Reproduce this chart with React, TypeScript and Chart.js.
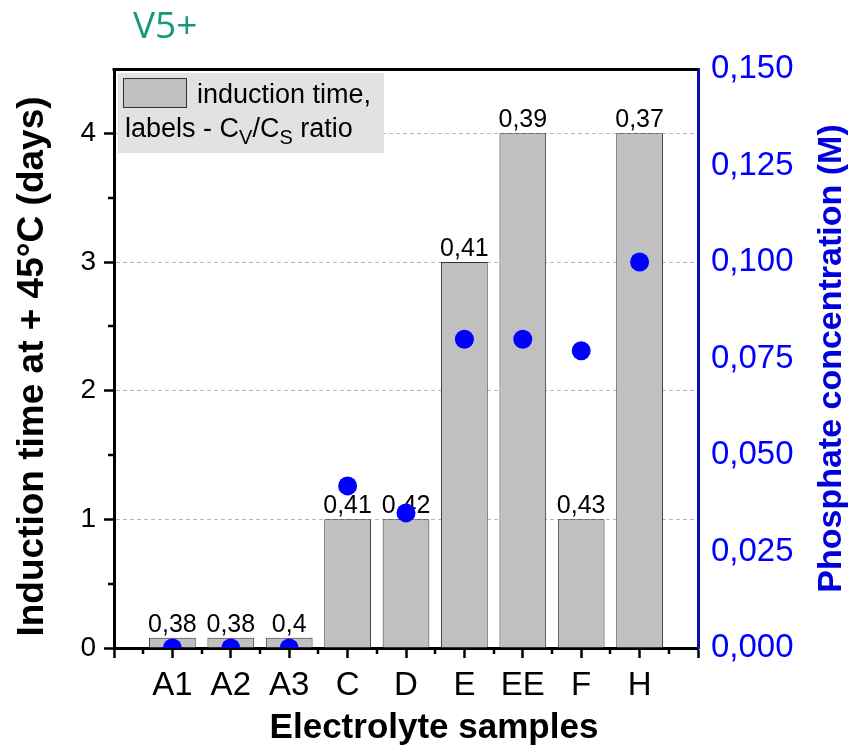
import React, { useEffect, useRef } from 'react';
import { Chart, registerables } from 'chart.js';

Chart.register(...registerables);

// Electrolyte samples along the x axis
const SAMPLES = ['A1', 'A2', 'A3', 'C', 'D', 'E', 'EE', 'F', 'H'];
// Induction time at +45 °C, days (bars, left axis)
const INDUCTION_DAYS = [0.08, 0.08, 0.08, 1, 1, 3, 4, 1, 4];
// Phosphate concentration, M (dots, right axis)
const PHOSPHATE_M = [0, 0, 0, 0.042, 0.035, 0.08, 0.08, 0.077, 0.1];
// CV/CS ratio printed above each bar
const CV_CS_RATIO = [0.38, 0.38, 0.4, 0.41, 0.42, 0.41, 0.39, 0.43, 0.37];
// Axis ticks
const DAY_TICKS = [0, 1, 2, 3, 4];
const CONC_TICKS = [0, 0.025, 0.05, 0.075, 0.1, 0.125, 0.15];

const FONT = "'Liberation Sans', Arial, Helvetica, sans-serif";
const BAR_FILL = '#c0c0c0';
const BAR_EDGE = '#333333';
const DOT_BLUE = '#0000ff';
const RIGHT_AXIS_BLUE = '#0c0cb0';
const TITLE_BLUE = '#0000dd';
const TEAL = '#17987a';

const comma = (v: number, digits?: number) =>
  (digits === undefined ? String(v) : v.toFixed(digits)).replace('.', ',');

const figureDecor = {
  id: 'figureDecor',
  afterDatasetDraw(chart: any, args: any) {
    if (args.index !== 0) return;
    const { ctx } = chart;
    const meta = chart.getDatasetMeta(0);
    ctx.save();
    ctx.font = `25px ${FONT}`;
    ctx.fillStyle = '#000';
    ctx.textAlign = 'center';
    ctx.textBaseline = 'alphabetic';
    meta.data.forEach((bar: any, i: number) => {
      ctx.fillText(comma(CV_CS_RATIO[i]), bar.x, bar.y - 6);
    });
    ctx.restore();
  },
  afterDraw(chart: any) {
    const { ctx, chartArea: a, scales } = chart;
    const xs = scales.x;
    const ys = scales.y;
    ctx.save();

    // top frame line
    ctx.strokeStyle = '#000';
    ctx.lineWidth = 3;
    ctx.beginPath();
    ctx.moveTo(a.left - 1.5, a.top + 0.5);
    ctx.lineTo(a.right, a.top + 0.5);
    ctx.stroke();

    // minor ticks on the x and left y axes
    ctx.lineWidth = 2.5;
    ctx.beginPath();
    for (let v = xs.min + 0.5; v < xs.max; v += 1) {
      const px = Math.round(xs.getPixelForValue(v));
      ctx.moveTo(px, a.bottom);
      ctx.lineTo(px, a.bottom + 6);
    }
    for (let v = 0.5; v < ys.max; v += 1) {
      const py = Math.round(ys.getPixelForValue(v));
      ctx.moveTo(a.left, py);
      ctx.lineTo(a.left - 6, py);
    }
    ctx.stroke();

    // legend box
    const lx = a.left + 4;
    const ly = a.top + 4;
    ctx.fillStyle = '#e2e2e2';
    ctx.fillRect(lx, ly, 266, 80);
    ctx.fillStyle = BAR_FILL;
    ctx.fillRect(lx + 5, ly + 5, 64, 30);
    ctx.strokeStyle = BAR_EDGE;
    ctx.lineWidth = 1;
    ctx.strokeRect(lx + 5.5, ly + 5.5, 63, 29);
    ctx.fillStyle = '#000';
    ctx.textAlign = 'left';
    ctx.textBaseline = 'alphabetic';
    ctx.font = `27px ${FONT}`;
    ctx.fillText('induction time,', lx + 79, ly + 30);
    let tx = lx + 7;
    const base = ly + 64;
    const parts: [string, boolean][] = [
      ['labels - C', false],
      ['V', true],
      ['/C', false],
      ['S', true],
      [' ratio', false],
    ];
    parts.forEach(([t, sub]) => {
      ctx.font = sub ? `20px ${FONT}` : `27px ${FONT}`;
      ctx.fillText(t, tx, sub ? base + 7 : base);
      tx += ctx.measureText(t).width;
    });

    // axis titles
    const midY = (a.top + a.bottom) / 2;
    ctx.textAlign = 'center';
    ctx.textBaseline = 'middle';

    ctx.save();
    ctx.font = `bold 37px ${FONT}`;
    ctx.fillStyle = '#000';
    ctx.translate(a.left - 81, midY + 8);
    ctx.rotate(-Math.PI / 2);
    ctx.fillText('Induction time at + 45°C (days)', 0, 0);
    ctx.restore();

    ctx.save();
    ctx.font = `bold 34px ${FONT}`;
    ctx.fillStyle = TITLE_BLUE;
    ctx.translate(a.right + 134, midY);
    ctx.rotate(-Math.PI / 2);
    ctx.fillText('Phosphate concentration (M)', 0, 0);
    ctx.restore();

    ctx.font = `bold 35px ${FONT}`;
    ctx.fillStyle = '#000';
    ctx.fillText('Electrolyte samples', (a.left + a.right) / 2 + 28, a.bottom + 80);

    // panel tag
    ctx.font = `37px 'Open Sans', 'Noto Sans', sans-serif`;
    ctx.fillStyle = TEAL;
    ctx.textAlign = 'left';
    ctx.textBaseline = 'alphabetic';
    ctx.fillText('V5+', 133, 38);

    ctx.restore();
  },
};

export default function App() {
  const canvasRef = useRef<HTMLCanvasElement | null>(null);

  useEffect(() => {
    const canvas = canvasRef.current;
    if (!canvas) return;
    const chart = new Chart(canvas, {
      data: {
        labels: SAMPLES.map((_, i) => i),
        datasets: [
          {
            type: 'bar',
            label: 'induction time',
            data: INDUCTION_DAYS,
            yAxisID: 'y',
            backgroundColor: BAR_FILL,
            borderColor: BAR_EDGE,
            borderWidth: 1,
            barPercentage: 0.8,
            categoryPercentage: 1,
            order: 2,
          } as any,
          {
            type: 'line',
            label: 'phosphate',
            data: PHOSPHATE_M,
            yAxisID: 'y1',
            showLine: false,
            pointRadius: 9.5,
            pointBackgroundColor: DOT_BLUE,
            pointBorderWidth: 0,
            pointBorderColor: DOT_BLUE,
            clip: 0,
            order: 1,
          } as any,
        ],
      },
      options: {
        responsive: false,
        animation: false,
        devicePixelRatio: 1,
        layout: { padding: { top: 69, left: 0, right: 0, bottom: 0 } },
        plugins: { legend: { display: false }, tooltip: { enabled: false } },
        scales: {
          x: {
            type: 'linear',
            position: 'bottom',
            min: -1,
            max: 9,
            offset: false,
            z: 1,
            afterFit: (s: any) => { s.height = 105; },
            afterBuildTicks: (s: any) => {
              s.ticks = [-1, ...SAMPLES.map((_, i) => i), SAMPLES.length].map((v) => ({ value: v }));
            },
            ticks: {
              autoSkip: false,
              maxRotation: 0,
              padding: 8,
              color: '#000',
              font: { family: FONT, size: 33 },
              callback: (v: any) => SAMPLES[v as number] ?? '',
            },
            grid: {
              offset: false,
              drawOnChartArea: false,
              drawTicks: true,
              tickLength: 10,
              tickWidth: 2.5,
              tickColor: '#000',
            },
            border: { display: true, color: '#000', width: 3 },
          },
          y: {
            type: 'linear',
            position: 'left',
            min: 0,
            max: 4.5,
            afterFit: (s: any) => { s.width = 114; },
            afterBuildTicks: (s: any) => {
              s.ticks = DAY_TICKS.map((v) => ({ value: v }));
            },
            ticks: {
              padding: 8,
              color: '#000',
              font: { family: FONT, size: 28 },
              callback: (v: any) => String(v),
            },
            grid: {
              drawOnChartArea: true,
              color: '#b8b8b8',
              lineWidth: 1,
              drawTicks: true,
              tickLength: 10,
              tickWidth: 2.5,
              tickColor: '#000',
              tickBorderDash: [],
            },
            border: { display: true, color: '#000', width: 3, dash: [4, 3] },
          },
          y1: {
            type: 'linear',
            position: 'right',
            min: 0,
            max: 0.15,
            z: 1,
            afterFit: (s: any) => { s.width = 158; },
            afterBuildTicks: (s: any) => {
              s.ticks = CONC_TICKS.map((v) => ({ value: v }));
            },
            ticks: {
              padding: 13,
              color: DOT_BLUE,
              font: { family: FONT, size: 33 },
              callback: (v: any) => comma(v as number, 3),
            },
            grid: { display: false, drawOnChartArea: false, drawTicks: false },
            border: { display: true, color: RIGHT_AXIS_BLUE, width: 3 },
          },
        },
      } as any,
      plugins: [figureDecor],
    });
    return () => chart.destroy();
  }, []);

  return (
    <div style={{ position: 'fixed', left: 0, top: 0, width: 856, height: 753, background: '#fff' }}>
      <canvas ref={canvasRef} width={856} height={753} style={{ display: 'block', width: 856, height: 753 }} />
    </div>
  );
}
